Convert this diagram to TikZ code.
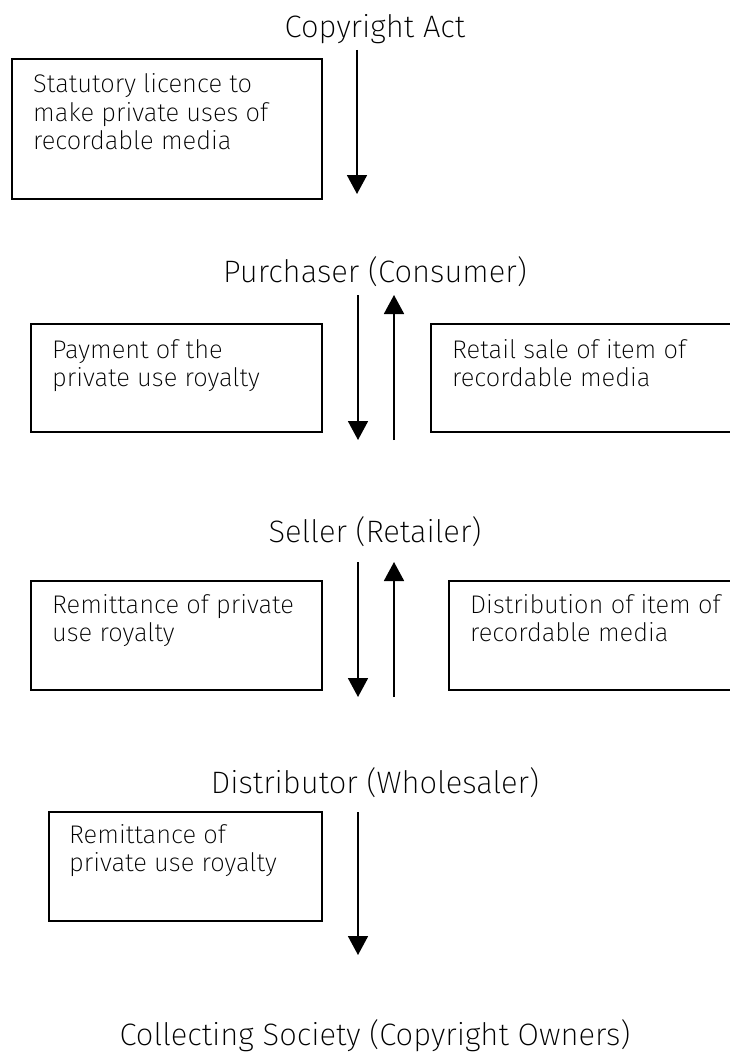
\documentclass[tikz,border=0pt]{standalone}
\usepackage{fontspec}
\setmainfont{Fira Sans ExtraLight}
\usetikzlibrary{arrows.meta}
\begin{document}
\begin{tikzpicture}[x=1pt,y=-1pt,
  lbl/.style={font=\fontsize{31}{36}\selectfont, inner sep=0pt, anchor=base},
  boxtxt/.style={font=\fontsize{25.5}{28.7}\selectfont, inner sep=0pt, anchor=base west, align=left},
  frame/.style={draw, line width=2.2pt},
  flow/.style={line width=1.8pt, -{Triangle[width=20pt,length=19pt]}}]
\useasboundingbox (0,0) rectangle (729,1054);
% labels
\node[lbl] (act) at (375,38) {Copyright Act};
\node[lbl] (pur) at (375,282) {Purchaser (Consumer)};
\node[lbl] (sel) at (375,542) {Seller (Retailer)};
\node[lbl] (dis) at (375,793) {Distributor (Wholesaler)};
\node[lbl] (col) at (375,1045) {Collecting Society (Copyright Owners)};
% boxes (text anchored at the baseline of its last line)
\draw[frame] (12,59) rectangle (322,199);
\node[boxtxt] (b1) at (33,149.9) {Statutory licence to\\make private uses of\\recordable media};
\draw[frame] (31,324) rectangle (322,432);
\node[boxtxt] (b2) at (52,386.7) {Payment of the\\private use royalty};
\draw[frame] (431,324) rectangle (745,432);
\node[boxtxt] (b3) at (452,386.7) {Retail sale of item of\\recordable media};
\draw[frame] (31,581) rectangle (322,690);
\node[boxtxt] (b4) at (52,641.7) {Remittance of private\\use royalty};
\draw[frame] (449,581) rectangle (745,690);
\node[boxtxt] (b5) at (470,641.7) {Distribution of item of\\recordable media};
\draw[frame] (49,812) rectangle (322,921);
\node[boxtxt] (b6) at (69,871.7) {Remittance of\\private use royalty};
% arrow ends
\coordinate (a1s) at (357,50);  \coordinate (a1e) at (357,194);
\coordinate (a2s) at (358,295); \coordinate (a2e) at (358,440);
\coordinate (u2s) at (394,440); \coordinate (u2e) at (394,295);
\coordinate (a3s) at (358,562); \coordinate (a3e) at (358,697);
\coordinate (u3s) at (394,697); \coordinate (u3e) at (394,562);
\coordinate (a4s) at (358,812); \coordinate (a4e) at (358,955);
\draw[flow] (a1s) -- (a1e);
\draw[flow] (a2s) -- (a2e);
\draw[flow] (u2s) -- (u2e);
\draw[flow] (a3s) -- (a3e);
\draw[flow] (u3s) -- (u3e);
\draw[flow] (a4s) -- (a4e);
\end{tikzpicture}
\end{document}
